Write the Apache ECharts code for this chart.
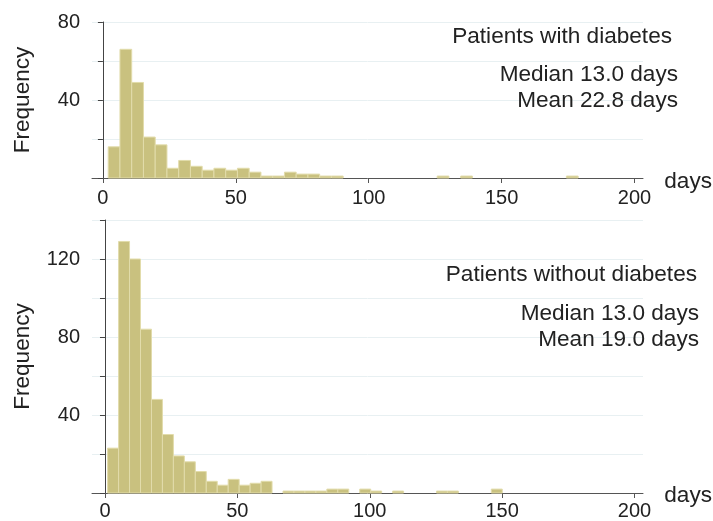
<!DOCTYPE html>
<html>
<head>
<meta charset="utf-8">
<script src="https://cdn.jsdelivr.net/npm/echarts@6/dist/echarts.min.js"></script>
<style>
  html, body { margin: 0; padding: 0; background: #fff; }
  #chart { width: 713px; height: 521px; }
</style>
</head>
<body>
<div id="chart"></div>
<script>
// histogram counts
const withCounts = [16, 66, 49, 21, 17, 5, 9, 6, 4, 5, 4, 5, 3, 1, 1, 3, 2, 2, 1, 1,
  0, 0, 0, 0, 0, 0, 0, 0, 1, 0, 1, 0, 0, 0, 0, 0, 0, 0, 0, 1]
const withBinStart = 2
const withBinWidth = 4.42

const withoutCounts = [23, 129, 120, 84, 48, 30, 19, 16, 11, 6, 4, 7, 4, 5, 6, 0, 1, 1, 1, 1,
  2, 2, 0, 2, 1, 0, 1, 0, 0, 0, 1, 1, 0, 0, 0, 2]
const withoutBinStart = 1
const withoutBinWidth = 4.14

const xTicks = [0, 50, 100, 150, 200]
const withYTicks = [0, 20, 40, 60, 80]
const withYLabels = [40, 80]
const withoutYTicks = [0, 20, 40, 60, 80, 100, 120, 140]
const withoutYLabels = [40, 80, 120]

const withNotes = ['Patients with diabetes', 'Median 13.0 days', 'Mean 22.8 days']
const withoutNotes = ['Patients without diabetes', 'Median 13.0 days', 'Mean 19.0 days']

const FONT = 'Liberation Sans, Arial, Helvetica, sans-serif'
const TEXT = '#222'
const BAR = '#c9c17f'
const BAR_EDGE = '#e2dcab'
const BIG = 22.6

// turn counts into [left, right, count] bins
const toBins = (counts, start, width) =>
  counts
    .map((c, i) => [start + i * width, start + (i + 1) * width, c])
    .filter((b) => b[2] > 0)

const renderBar = (params, api) => {
  const p0 = api.coord([api.value(0), api.value(2)])
  const p1 = api.coord([api.value(1), 0])
  return {
    type: 'rect',
    shape: { x: p0[0], y: p0[1], width: p1[0] - p0[0], height: p1[1] - p0[1] },
    style: { fill: BAR, stroke: BAR_EDGE, lineWidth: 1 },
  }
}

const makeX = (gridIndex, min, margin) => ({
  type: 'value',
  gridIndex,
  min,
  max: 203.2,
  axisLine: { show: true, onZero: false, lineStyle: { color: '#555', width: 1 } },
  axisTick: { show: true, length: 5, customValues: xTicks, lineStyle: { color: '#555' } },
  axisLabel: { customValues: xTicks, fontFamily: FONT, fontSize: 20, color: TEXT, margin },
  splitLine: { show: false },
})

const makeY = (gridIndex, max, ticks, labels) => ({
  type: 'value',
  gridIndex,
  min: 0,
  max,
  interval: 20,
  name: 'Frequency',
  nameLocation: 'middle',
  nameGap: 58,
  nameTextStyle: { fontFamily: FONT, fontSize: BIG, color: TEXT },
  axisLine: { show: true, lineStyle: { color: '#444', width: 1 } },
  axisTick: { show: true, length: 5, customValues: ticks, lineStyle: { color: '#444' } },
  axisLabel: { customValues: labels, fontFamily: FONT, fontSize: 20, color: TEXT, margin: 12 },
  splitLine: { show: true, lineStyle: { color: '#e8f0f2', width: 1 } },
})

const note = (text, right, y) => ({
  type: 'text',
  right,
  top: y,
  z: 100,
  style: { text, fontFamily: FONT, fontSize: BIG, fill: TEXT },
})

const chart = echarts.init(document.getElementById('chart'))

chart.setOption({
  animation: false,
  grid: [
    { left: 92, right: 70, top: 22, height: 156 },
    { left: 92, right: 70, top: 220, height: 273 },
  ],
  xAxis: [makeX(0, -4.1, 10), makeX(1, -4.9, 8)],
  yAxis: [makeY(0, 80, withYTicks, withYLabels), makeY(1, 140, withoutYTicks, withoutYLabels)],
  series: [
    {
      type: 'custom',
      xAxisIndex: 0,
      yAxisIndex: 0,
      renderItem: renderBar,
      encode: { x: [0, 1], y: 2 },
      data: toBins(withCounts, withBinStart, withBinWidth),
    },
    {
      type: 'custom',
      xAxisIndex: 1,
      yAxisIndex: 1,
      renderItem: renderBar,
      encode: { x: [0, 1], y: 2 },
      data: toBins(withoutCounts, withoutBinStart, withoutBinWidth),
    },
  ],
  graphic: [
    note(withNotes[0], 41, 25),
    note(withNotes[1], 35, 63),
    note(withNotes[2], 35, 89),
    note(withoutNotes[0], 16, 263),
    note(withoutNotes[1], 14, 302),
    note(withoutNotes[2], 14, 328),
    note('days', 1, 170),
    note('days', 1, 484),
  ],
})
</script>
</body>
</html>
